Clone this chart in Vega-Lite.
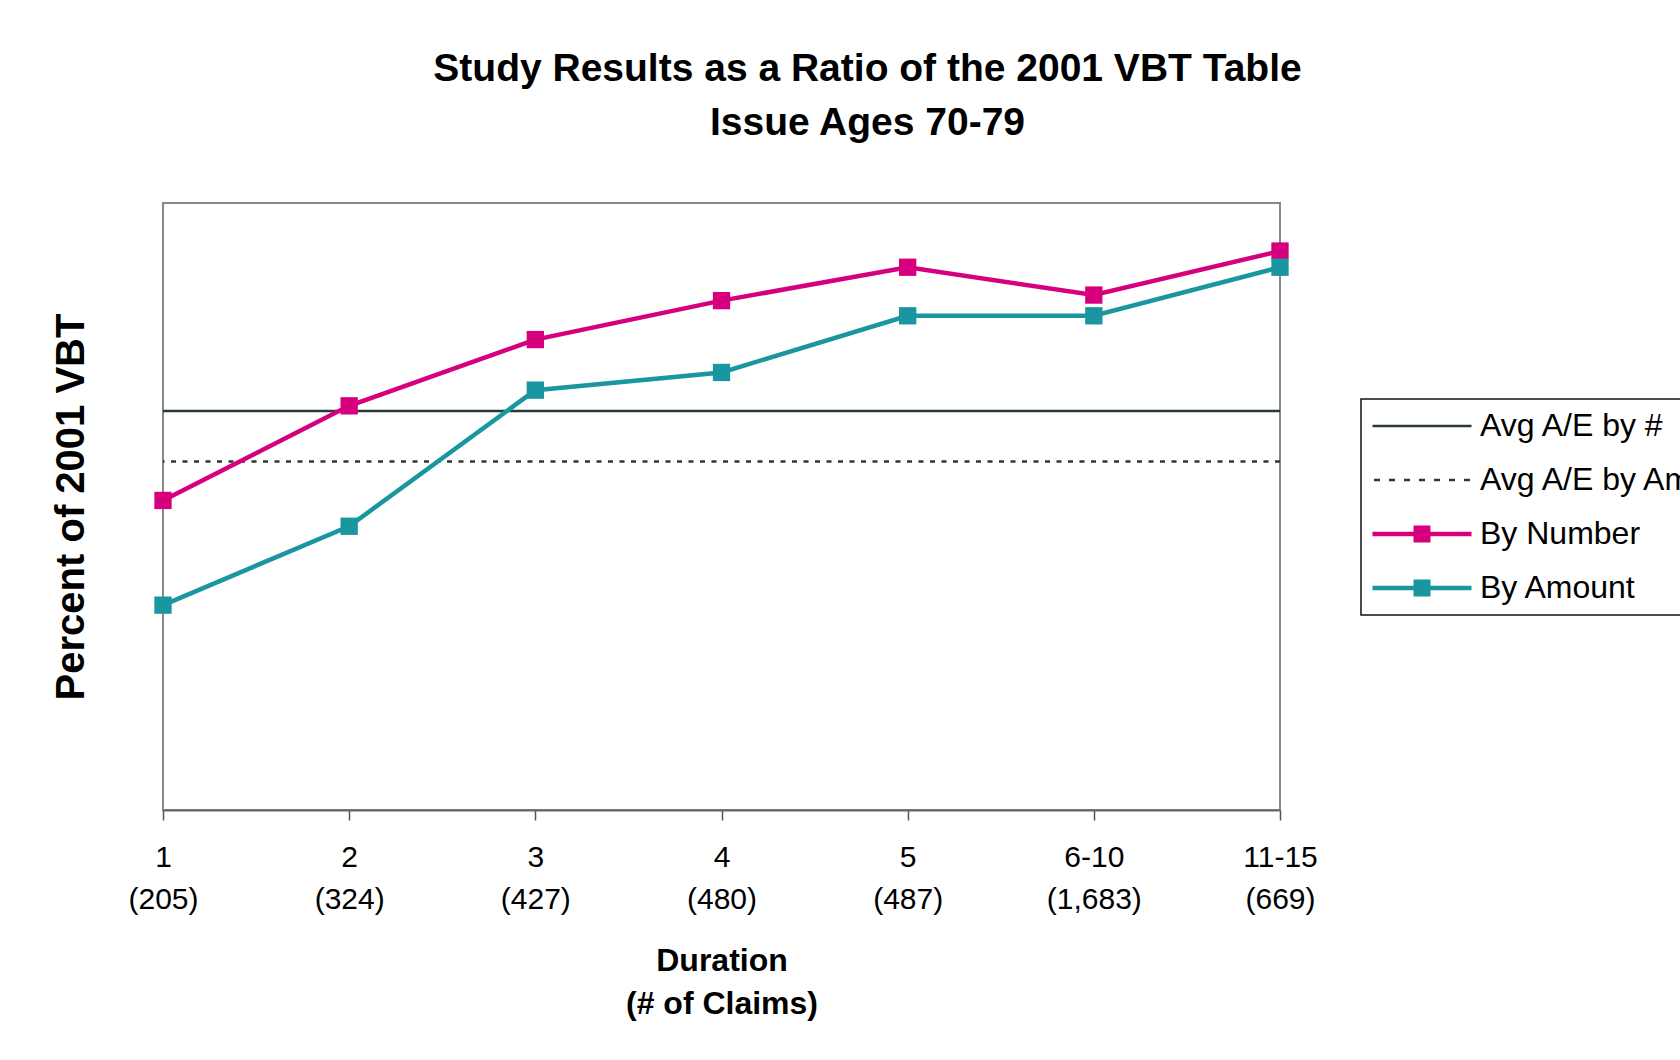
{
  "$schema": "https://vega.github.io/schema/vega-lite/v6.json",
  "autosize": {"type": "none"},
  "width": 1117,
  "height": 607,
  "padding": {"left": 163, "top": 203, "right": 400, "bottom": 250},
  "background": "white",
  "title": {
    "text": ["Study Results as a Ratio of the 2001 VBT Table", "Issue Ages 70-79"],
    "font": "Liberation Sans",
    "fontSize": 39,
    "fontWeight": "bold",
    "color": "black",
    "lineHeight": 54,
    "anchor": "middle",
    "frame": "group",
    "dx": 146,
    "offset": 60
  },
  "datasets": {
    "series": [
      {"duration": "1 (205)", "series": "By Number", "value": 61.2},
      {"duration": "2 (324)", "series": "By Number", "value": 79.9},
      {"duration": "3 (427)", "series": "By Number", "value": 93.0},
      {"duration": "4 (480)", "series": "By Number", "value": 100.7},
      {"duration": "5 (487)", "series": "By Number", "value": 107.3},
      {"duration": "6-10 (1,683)", "series": "By Number", "value": 101.8},
      {"duration": "11-15 (669)", "series": "By Number", "value": 110.5},
      {"duration": "1 (205)", "series": "By Amount", "value": 40.5},
      {"duration": "2 (324)", "series": "By Amount", "value": 56.1},
      {"duration": "3 (427)", "series": "By Amount", "value": 83.0},
      {"duration": "4 (480)", "series": "By Amount", "value": 86.5},
      {"duration": "5 (487)", "series": "By Amount", "value": 97.7},
      {"duration": "6-10 (1,683)", "series": "By Amount", "value": 97.7},
      {"duration": "11-15 (669)", "series": "By Amount", "value": 107.3}
    ],
    "avg": [
      {"series": "Avg A/E by #", "value": 78.9},
      {"series": "Avg A/E by Amount", "value": 68.9}
    ],
    "legend": [
      {"series": "Avg A/E by #"},
      {"series": "Avg A/E by Amount"},
      {"series": "By Number"},
      {"series": "By Amount"}
    ]
  },
  "layer": [
    {
      "data": {"name": "avg"},
      "mark": {"type": "rule", "strokeWidth": 2.5},
      "encoding": {
        "y": {"field": "value", "type": "quantitative", "scale": {"domain": [0, 120]}, "title": "Percent of 2001 VBT"},
        "stroke": {
          "field": "series", "type": "nominal",
          "scale": {"domain": ["By Number", "By Amount", "Avg A/E by #", "Avg A/E by Amount"], "range": ["#D6007F", "#1A96A0", "#283c36", "#283c36"]},
          "legend": null
        },
        "strokeDash": {
          "field": "series", "type": "nominal",
          "scale": {"domain": ["Avg A/E by #", "Avg A/E by Amount"], "range": [[1, 0], [5, 6.5]]},
          "legend": null
        }
      }
    },
    {
      "data": {"name": "series"},
      "mark": {"type": "line", "strokeWidth": 4.5},
      "encoding": {
        "x": {"field": "duration", "type": "ordinal", "sort": null, "scale": {"type": "point", "padding": 0}, "title": ["Duration", "(# of Claims)"], "axis": {"labelExpr": "split(datum.label, ' ')"}},
        "y": {"field": "value", "type": "quantitative", "scale": {"domain": [0, 120]}, "title": "Percent of 2001 VBT"},
        "stroke": {
          "field": "series", "type": "nominal",
          "scale": {"domain": ["By Number", "By Amount", "Avg A/E by #", "Avg A/E by Amount"], "range": ["#D6007F", "#1A96A0", "#283c36", "#283c36"]},
          "legend": null
        }
      }
    },
    {
      "data": {"name": "series"},
      "mark": {"type": "point", "shape": "square", "filled": true, "size": 300, "opacity": 1, "strokeWidth": 0},
      "encoding": {
        "x": {"field": "duration", "type": "ordinal", "sort": null, "scale": {"type": "point", "padding": 0}, "title": ["Duration", "(# of Claims)"], "axis": {"labelExpr": "split(datum.label, ' ')"}},
        "y": {"field": "value", "type": "quantitative", "scale": {"domain": [0, 120]}, "title": "Percent of 2001 VBT"},
        "fill": {
          "field": "series", "type": "nominal",
          "scale": {"domain": ["By Number", "By Amount"], "range": ["#D6007F", "#1A96A0"]},
          "legend": null
        }
      }
    },
    {
      "data": {"name": "legend"},
      "mark": {"type": "point", "filled": true, "size": 400, "opacity": 1, "strokeWidth": 0, "invalid": "filter"},
      "encoding": {
        "y": {"field": "value", "type": "quantitative", "scale": {"domain": [0, 120]}, "title": "Percent of 2001 VBT"},
        "color": {
          "field": "series", "type": "nominal",
          "scale": {"domain": ["Avg A/E by #", "Avg A/E by Amount", "By Number", "By Amount"], "range": ["#283c36", "#283c36", "#D6007F", "#1A96A0"]},
          "legend": {
            "orient": "none", "legendX": 1198, "legendY": 196, "title": null, "direction": "vertical",
            "padding": 11, "fillColor": "white", "strokeColor": "#111111",
            "labelFont": "Liberation Sans", "labelFontSize": 32, "labelColor": "black", "labelLimit": 600,
            "symbolSize": 400, "symbolStrokeWidth": 0, "symbolOpacity": 1, "symbolOffset": 34, "labelOffset": 42, "rowPadding": 22
          }
        },
        "shape": {
          "field": "series", "type": "nominal",
          "scale": {
            "domain": ["Avg A/E by #", "Avg A/E by Amount", "By Number", "By Amount"],
            "range": [
              "M-4.95,-0.125H4.95V0.125H-4.95Z",
              "M-4.8,-0.12h0.6v0.24h-0.6Z M-3.3,-0.12h0.6v0.24h-0.6Z M-1.8,-0.12h0.6v0.24h-0.6Z M-0.3,-0.12h0.6v0.24h-0.6Z M1.2,-0.12h0.6v0.24h-0.6Z M2.7,-0.12h0.6v0.24h-0.6Z M4.2,-0.12h0.6v0.24h-0.6Z",
              "M-4.95,-0.225H4.95V0.225H-4.95Z M-0.85,-0.85H0.85V0.85H-0.85Z",
              "M-4.95,-0.225H4.95V0.225H-4.95Z M-0.85,-0.85H0.85V0.85H-0.85Z"
            ]
          },
          "legend": {
            "orient": "none", "legendX": 1198, "legendY": 196, "title": null, "direction": "vertical",
            "padding": 11, "fillColor": "white", "strokeColor": "#111111",
            "labelFont": "Liberation Sans", "labelFontSize": 32, "labelColor": "black", "labelLimit": 600,
            "symbolSize": 400, "symbolStrokeWidth": 0, "symbolOpacity": 1, "symbolOffset": 34, "labelOffset": 42, "rowPadding": 22
          }
        }
      }
    }
  ],
  "config": {
    "view": {"stroke": "#888888", "strokeWidth": 2},
    "legend": {"strokeWidth": 1.5},
    "axisY": {"labels": false, "ticks": false, "domain": false, "grid": false, "titleFont": "Liberation Sans", "titleFontSize": 40, "titleFontWeight": "bold", "titleColor": "black", "titlePadding": 72},
    "axisX": {"domainColor": "#666666", "domainWidth": 2, "tickColor": "#555555", "tickSize": 10, "tickWidth": 1.5, "labelFont": "Liberation Sans", "labelFontSize": 30, "labelColor": "black", "labelPadding": 22, "labelLineHeight": 42.5, "labelAngle": 0, "labelOverlap": false, "grid": false, "titleFont": "Liberation Sans", "titleFontSize": 32, "titleFontWeight": "bold", "titleColor": "black", "titleLineHeight": 43, "titlePadding": 31}
  }
}
